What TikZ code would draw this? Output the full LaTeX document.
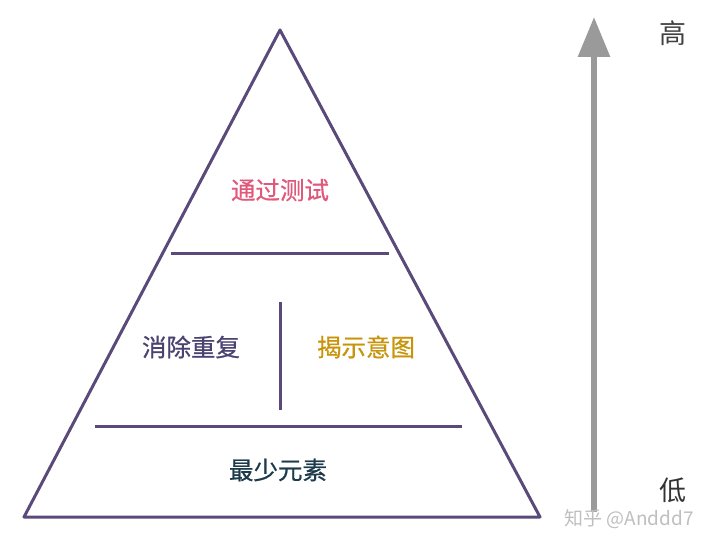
\documentclass[tikz,border=0pt]{standalone}
\usepackage{fontspec}
\setmainfont{Noto Sans CJK SC}
\newfontfamily\levelfont[FakeBold=0.7]{Noto Sans CJK SC}
\usepackage{xcolor}
\usetikzlibrary{arrows.meta}

\definecolor{edgepurple}{HTML}{5A4A7A}
\definecolor{testred}{HTML}{E0587A}
\definecolor{duppurple}{HTML}{4A4270}
\definecolor{intentgold}{HTML}{C8940C}
\definecolor{elemteal}{HTML}{1C3A4A}
\definecolor{arrowgray}{HTML}{9A9A9A}

\begin{document}
\begin{tikzpicture}[x=1pt,y=-1pt,
    edge/.style={draw=edgepurple, line width=3pt},
    level/.style={font=\levelfont\fontsize{24.5}{24.5}\selectfont}]

    \useasboundingbox (0,0) rectangle (720,548);

    % corners and rules
    \coordinate (top) at (280,30);
    \coordinate (bl) at (24,517);
    \coordinate (br) at (540,517);
    \coordinate (r1a) at (171,253);
    \coordinate (r1b) at (389,253);
    \coordinate (r2a) at (95,426);
    \coordinate (r2b) at (462,426);
    \coordinate (vtop) at (280,302);
    \coordinate (vbot) at (280,410);

    \draw[edge, line join=round] (top) -- (br) -- (bl) -- cycle;
    \draw[edge] (r1a) -- (r1b);
    \draw[edge] (r2a) -- (r2b);
    \draw[edge] (vtop) -- (vbot);

    % labels
    \node[level, text=testred] (test) at (280,190) {通过测试};
    \node[level, text=duppurple] (dup) at (191,347) {消除重复};
    \node[level, text=intentgold] (intent) at (366,347) {揭示意图};
    \node[level, text=elemteal] (elem) at (278,470) {最少元素};

    % scale
    \coordinate (lo) at (594,512);
    \coordinate (hi) at (594,17);
    \draw[arrowgray, line width=6pt, -{Triangle[width=31pt,length=40pt]}] (lo) -- (hi);
    \node[font=\fontsize{27}{27}\selectfont, text=black!75] (high) at (673,33) {高};
    \node[font=\fontsize{27}{27}\selectfont, text=black!80] (low) at (673,490) {低};

    \node[font=\fontsize{19}{19}\selectfont, text=black!25] (mark) at (629,519) {知乎 @Anddd7};

\end{tikzpicture}
\end{document}
